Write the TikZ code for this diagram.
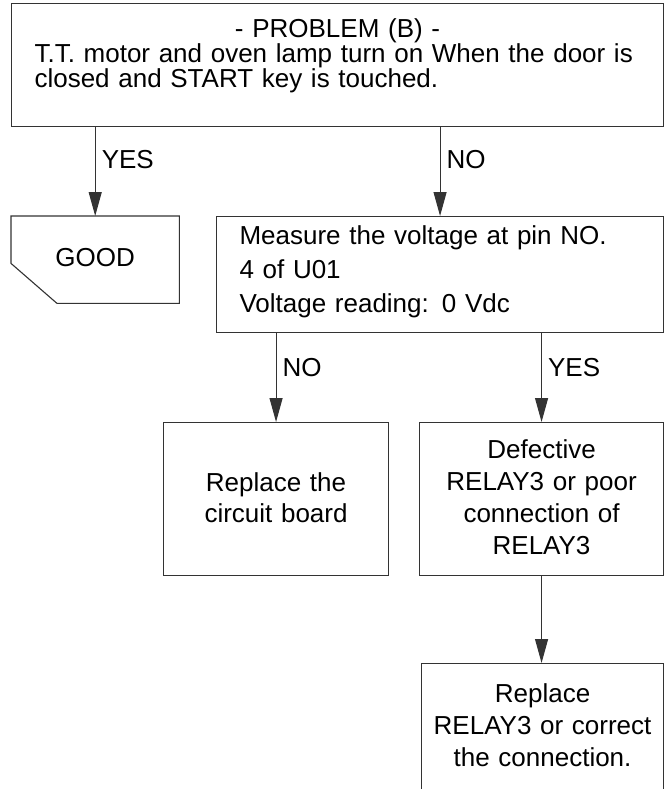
\documentclass[tikz,border=0pt]{standalone}
\usepackage{fontspec}
\setmainfont{Liberation Sans}
\usetikzlibrary{arrows.meta, positioning}

\begin{document}
\begin{tikzpicture}[x=1pt, y=-1pt, >={Triangle[length=24pt, width=13pt]},
    box/.style={rectangle, draw=black!80, line width=1.1pt, inner ysep=0pt, inner xsep=8pt},
    txt/.style={font=\fontsize{26}{#1}\selectfont},
    lbl/.style={right=6pt, inner sep=0pt, font=\fontsize{26}{30}\selectfont},
    link/.style={->, draw=black!80, line width=1.1pt}]

    \useasboundingbox (0,0) rectangle (664,789);
    \clip (0,0) rectangle (664,789);

    \node[box, txt=25, anchor=north west, align=left, inner xsep=23pt, text width=606pt,
          text height=34pt, text depth=89pt] (prob) at (11,3)
        {\hfill - PROBLEM (B) -\hfill\null\\
         T.T. motor and oven lamp turn on When the door is\\
         closed and START key is touched.};

    \node[anchor=north west, inner sep=0pt, minimum width=168pt, txt=30,
          text height=50pt, text depth=37pt] (good) at (11,216) {GOOD};
    \draw[draw=black!80, line width=1.1pt] (good.north west) -- (good.north east) -- (good.south east)
        -- ([xshift=46pt]good.south west) -- ([yshift=40pt]good.south west) -- cycle;

    \node[box, txt=34, anchor=north west, align=left, inner xsep=23pt, text width=401pt,
          text height=28pt, text depth=88pt] (meas) at (216,216)
        {Measure the voltage at pin NO.\\ 4 of U01\\ Voltage reading: 0 Vdc};

    \node[box, txt=31, anchor=north west, align=center, text width=209pt,
          text height=69pt, text depth=84pt] (board) at (163,422)
        {Replace the\\ circuit board};
    \node[box, txt=32, anchor=north west, align=center, text width=228pt,
          text height=36pt, text depth=117pt] (relay) at (419,422)
        {Defective\\ RELAY3 or poor\\ connection of\\ RELAY3};
    \node[box, txt=32, anchor=north west, align=center, text width=226pt,
          text height=39pt, text depth=160pt] (fix) at (421,663)
        {Replace\\ RELAY3 or correct\\ the connection.};

    \draw[link] (prob.south -| good.north) -- (good.north) node[lbl, pos=0.37] (yesA) {YES};
    \draw[link] (prob.south -| meas.north) -- (meas.north) node[lbl, pos=0.37] (noA) {NO};
    \draw[link] (meas.south -| board.north) -- (board.north) node[lbl, pos=0.39] (noB) {NO};
    \draw[link] (meas.south -| relay.north) -- (relay.north) node[lbl, pos=0.39] (yesB) {YES};
    \draw[link] (relay.south) -- (relay.south |- fix.north);

\end{tikzpicture}
\end{document}
